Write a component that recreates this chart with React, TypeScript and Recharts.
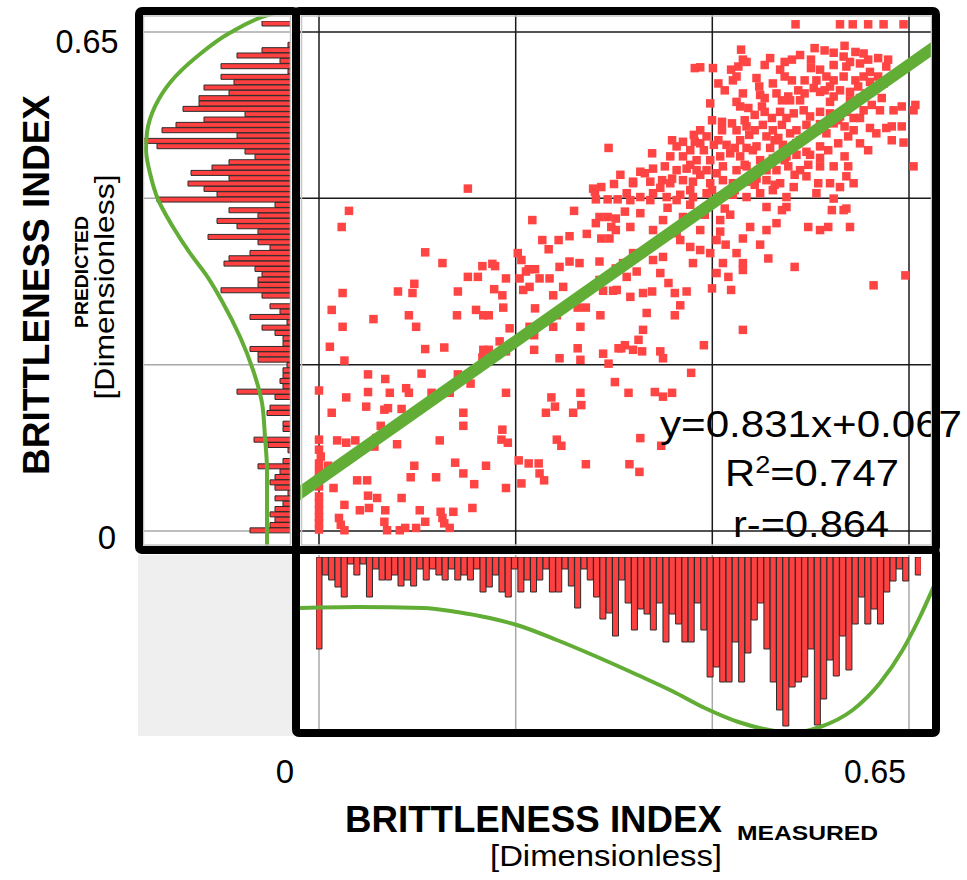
import React from "react";
import {
  ScatterChart,
  Scatter,
  BarChart,
  Bar,
  XAxis,
  YAxis,
  ReferenceLine,
} from "recharts";

type Pair = [number, number];

// [measured, predicted] brittleness index per sample, lower band of the cloud
const lowerSamples: Pair[] = [
  [0.105, 0.322], [0.026, 0.31], [0.087, 0.312], [0.103, 0.31], [0.153, 0.312], [0.164, 0.331], [0.175, 0.331],
  [0.193, 0.315], [0.206, 0.329], [0.202, 0.307], [0.014, 0.288], [0.06, 0.276], [0.099, 0.281], [0.107, 0.266],
  [0.152, 0.281], [0.173, 0.288], [0.181, 0.281], [0.187, 0.281], [0.203, 0.291], [0.026, 0.266], [0.012, 0.24],
  [0.117, 0.237], [0.138, 0.239], [0.181, 0.236], [0.187, 0.236], [0.199, 0.247], [0.206, 0.234], [0.21, 0.264],
  [0.18, 0.226], [0.028, 0.222], [0.054, 0.204], [0.073, 0.198], [0.113, 0.205], [0.153, 0.204], [0.167, 0.192],
  [0.0, 0.183], [0.03, 0.174], [0.054, 0.181], [0.078, 0.18], [0.096, 0.186], [0.099, 0.18], [0.124, 0.18],
  [0.144, 0.18], [0.206, 0.18], [0.014, 0.154], [0.052, 0.162], [0.072, 0.158], [0.076, 0.16], [0.091, 0.159],
  [0.159, 0.154], [0.068, 0.137], [0.159, 0.137], [0.202, 0.132], [0.0, 0.119], [0.02, 0.118], [0.03, 0.115],
  [0.04, 0.118], [0.063, 0.121], [0.061, 0.11], [0.086, 0.113], [0.133, 0.118], [0.201, 0.119], [0.208, 0.115],
  [0.0, 0.106], [0.0, 0.088], [0.01, 0.085], [0.004, 0.075], [0.0, 0.069], [0.016, 0.056], [0.042, 0.066],
  [0.053, 0.066], [0.105, 0.085], [0.101, 0.07], [0.129, 0.07], [0.15, 0.089], [0.159, 0.075], [0.171, 0.061],
  [0.184, 0.085], [0.206, 0.056], [0.0, 0.045], [0.0, 0.027], [0.0, 0.01], [0.028, 0.034], [0.054, 0.046],
  [0.064, 0.043], [0.091, 0.043], [0.045, 0.027], [0.055, 0.03], [0.073, 0.027], [0.111, 0.027], [0.134, 0.025],
  [0.148, 0.025], [0.169, 0.03], [0.022, 0.017], [0.024, 0.008], [0.028, 0.001], [0.072, 0.012], [0.075, 0.001],
  [0.089, 0.001], [0.095, 0.004], [0.107, 0.004], [0.117, 0.012], [0.136, 0.017], [0.138, 0.01], [0.144, 0.004],
  [0.0, 0.002], [0.0, 0.018], [0.0, 0.036], [0.0, 0.058], [0.0, 0.078], [0.002, 0.097],
];

// middle band
const middleSamples: Pair[] = [
  [0.22, 0.092], [0.231, 0.088], [0.242, 0.088], [0.243, 0.075], [0.248, 0.066], [0.223, 0.062], [0.294, 0.087],
  [0.262, 0.119], [0.267, 0.111], [0.256, 0.174], [0.26, 0.162], [0.25, 0.154], [0.288, 0.18], [0.289, 0.164],
  [0.28, 0.154], [0.326, 0.194], [0.232, 0.266], [0.237, 0.255], [0.237, 0.236], [0.258, 0.266], [0.262, 0.281],
  [0.285, 0.291], [0.294, 0.291], [0.288, 0.266], [0.31, 0.281], [0.285, 0.238], [0.288, 0.223], [0.265, 0.225],
  [0.313, 0.231], [0.319, 0.218], [0.33, 0.238], [0.225, 0.314], [0.221, 0.329], [0.232, 0.318], [0.243, 0.329],
  [0.254, 0.329], [0.258, 0.307], [0.238, 0.29], [0.269, 0.318], [0.313, 0.313], [0.324, 0.313], [0.309, 0.327],
  [0.343, 0.305], [0.357, 0.31], [0.367, 0.312], [0.385, 0.323], [0.392, 0.31], [0.405, 0.312], [0.328, 0.314],
  [0.339, 0.331], [0.361, 0.284], [0.392, 0.281], [0.398, 0.294], [0.433, 0.316], [0.454, 0.314], [0.451, 0.331],
  [0.357, 0.262], [0.352, 0.249], [0.337, 0.242], [0.333, 0.238], [0.346, 0.236], [0.356, 0.234], [0.376, 0.234],
  [0.379, 0.225], [0.424, 0.242], [0.467, 0.262], [0.611, 0.32], [0.646, 0.333], [0.341, 0.18], [0.37, 0.181],
  [0.379, 0.175], [0.389, 0.18], [0.41, 0.206], [0.354, 0.121], [0.377, 0.111], [0.342, 0.087], [0.353, 0.077],
  [0.164, 0.446], [0.033, 0.417], [0.025, 0.396], [0.117, 0.363], [0.136, 0.349], [0.18, 0.345], [0.191, 0.348],
  [0.194, 0.345], [0.219, 0.362], [0.223, 0.353], [0.235, 0.405], [0.246, 0.379], [0.253, 0.367], [0.264, 0.379],
  [0.276, 0.384], [0.281, 0.417], [0.295, 0.387], [0.265, 0.344], [0.276, 0.351], [0.287, 0.349], [0.305, 0.401],
  [0.309, 0.409], [0.318, 0.409], [0.327, 0.407], [0.322, 0.396], [0.327, 0.392], [0.32, 0.381], [0.311, 0.381],
  [0.309, 0.351], [0.302, 0.446], [0.311, 0.448], [0.325, 0.452], [0.305, 0.432], [0.318, 0.432], [0.329, 0.432],
  [0.335, 0.349], [0.327, 0.342], [0.319, 0.499], [0.304, 0.442], [0.231, 0.341], [0.238, 0.341], [0.228, 0.338],
];

// upper band, where most samples sit
const upperSamples: Pair[] = [
  [0.465, 0.627], [0.467, 0.614], [0.462, 0.605], [0.471, 0.611], [0.42, 0.604], [0.414, 0.603], [0.434, 0.603],
  [0.454, 0.601], [0.491, 0.607], [0.521, 0.614], [0.542, 0.614], [0.542, 0.603], [0.557, 0.626], [0.567, 0.623],
  [0.579, 0.632], [0.578, 0.618], [0.591, 0.624], [0.6, 0.622], [0.605, 0.614], [0.616, 0.616], [0.627, 0.614],
  [0.625, 0.605], [0.596, 0.609], [0.581, 0.605], [0.567, 0.607], [0.552, 0.601], [0.44, 0.583], [0.447, 0.574],
  [0.456, 0.587], [0.46, 0.592], [0.482, 0.59], [0.485, 0.579], [0.5, 0.583], [0.508, 0.601], [0.513, 0.592],
  [0.521, 0.587], [0.535, 0.587], [0.548, 0.587], [0.559, 0.592], [0.567, 0.587], [0.578, 0.592], [0.591, 0.587],
  [0.6, 0.592], [0.607, 0.598], [0.616, 0.592], [0.622, 0.583], [0.467, 0.57], [0.46, 0.559], [0.464, 0.553],
  [0.473, 0.551], [0.488, 0.553], [0.504, 0.57], [0.51, 0.561], [0.517, 0.566], [0.53, 0.561], [0.535, 0.57],
  [0.545, 0.577], [0.552, 0.572], [0.563, 0.579], [0.567, 0.566], [0.574, 0.574], [0.585, 0.572], [0.594, 0.579],
  [0.603, 0.57], [0.611, 0.577], [0.62, 0.564], [0.431, 0.557], [0.433, 0.535], [0.444, 0.533], [0.455, 0.531],
  [0.46, 0.522], [0.471, 0.527], [0.489, 0.529], [0.499, 0.538], [0.508, 0.546], [0.515, 0.538], [0.523, 0.544],
  [0.534, 0.548], [0.541, 0.54], [0.552, 0.546], [0.563, 0.544], [0.574, 0.54], [0.581, 0.546], [0.589, 0.538],
  [0.6, 0.548], [0.609, 0.555], [0.633, 0.548], [0.642, 0.553], [0.657, 0.555], [0.655, 0.548], [0.42, 0.522],
  [0.427, 0.514], [0.389, 0.509], [0.401, 0.507], [0.394, 0.501], [0.409, 0.496], [0.42, 0.505], [0.44, 0.509],
  [0.449, 0.503], [0.458, 0.499], [0.471, 0.499], [0.482, 0.501], [0.493, 0.514], [0.5, 0.522], [0.51, 0.529],
  [0.519, 0.518], [0.526, 0.522], [0.537, 0.529], [0.548, 0.522], [0.559, 0.518], [0.567, 0.531], [0.579, 0.527],
  [0.589, 0.522], [0.583, 0.514], [0.607, 0.525], [0.614, 0.518], [0.625, 0.525], [0.642, 0.527], [0.631, 0.509],
  [0.644, 0.506], [0.367, 0.492], [0.387, 0.488], [0.401, 0.488], [0.416, 0.483], [0.431, 0.483], [0.442, 0.488],
  [0.453, 0.492], [0.464, 0.488], [0.478, 0.496], [0.486, 0.483], [0.5, 0.485], [0.515, 0.488], [0.526, 0.49],
  [0.537, 0.494], [0.552, 0.501], [0.561, 0.496], [0.579, 0.488], [0.583, 0.475], [0.567, 0.475], [0.552, 0.475],
  [0.539, 0.477], [0.53, 0.47], [0.517, 0.475], [0.504, 0.47], [0.493, 0.47], [0.484, 0.47], [0.471, 0.475],
  [0.46, 0.47], [0.445, 0.475], [0.438, 0.466], [0.427, 0.47], [0.416, 0.47], [0.405, 0.472], [0.394, 0.47],
  [0.381, 0.475], [0.368, 0.472], [0.359, 0.466], [0.346, 0.453], [0.365, 0.455], [0.378, 0.457], [0.389, 0.459],
  [0.401, 0.457], [0.412, 0.455], [0.431, 0.453], [0.445, 0.457], [0.456, 0.453], [0.471, 0.455], [0.482, 0.459],
  [0.493, 0.457], [0.508, 0.453], [0.523, 0.448], [0.537, 0.462], [0.55, 0.453], [0.563, 0.453], [0.574, 0.448],
  [0.581, 0.462], [0.589, 0.453], [0.655, 0.475], [0.339, 0.44], [0.354, 0.435], [0.368, 0.44], [0.383, 0.435],
  [0.398, 0.438], [0.412, 0.435], [0.427, 0.44], [0.442, 0.435], [0.456, 0.438], [0.471, 0.435], [0.486, 0.44],
  [0.5, 0.444], [0.515, 0.435], [0.548, 0.44], [0.567, 0.433], [0.581, 0.42], [0.515, 0.422], [0.493, 0.422],
  [0.497, 0.499], [0.511, 0.503], [0.526, 0.505], [0.506, 0.512], [0.491, 0.564], [0.48, 0.542], [0.474, 0.516],
  [0.552, 0.486], [0.572, 0.505], [0.596, 0.505], [0.596, 0.564], [0.563, 0.559],
  [0.525, 0.66], [0.574, 0.66], [0.588, 0.66], [0.605, 0.66], [0.622, 0.66], [0.644, 0.66], [0.631, 0.527],
  [0.585, 0.396], [0.578, 0.418], [0.565, 0.418], [0.552, 0.392], [0.561, 0.396], [0.539, 0.396], [0.51, 0.418],
  [0.493, 0.392], [0.504, 0.401], [0.475, 0.396], [0.467, 0.381], [0.46, 0.362], [0.467, 0.349], [0.445, 0.349],
  [0.448, 0.373], [0.438, 0.379], [0.442, 0.405], [0.447, 0.42], [0.495, 0.355], [0.524, 0.344], [0.414, 0.507],
  [0.346, 0.455], [0.387, 0.453], [0.343, 0.431], [0.365, 0.431], [0.394, 0.431], [0.354, 0.414], [0.379, 0.405],
  [0.401, 0.409], [0.343, 0.396], [0.368, 0.392], [0.394, 0.388], [0.42, 0.392], [0.409, 0.37], [0.379, 0.357],
  [0.368, 0.353], [0.346, 0.362], [0.412, 0.349], [0.431, 0.362], [0.438, 0.336], [0.467, 0.34], [0.376, 0.336],
  [0.35, 0.338],
];

// tightly packed samples in the core of the upper cloud
const coreSamples: Pair[] = [
  [0.413, 0.516], [0.424, 0.496], [0.435, 0.503], [0.409, 0.477], [0.42, 0.464], [0.433, 0.444], [0.444, 0.522],
  [0.409, 0.444], [0.469, 0.535], [0.48, 0.522], [0.491, 0.546], [0.502, 0.509], [0.513, 0.483], [0.524, 0.464],
  [0.502, 0.451], [0.48, 0.451], [0.469, 0.477], [0.53, 0.509], [0.541, 0.49], [0.519, 0.561], [0.528, 0.574],
  [0.486, 0.568], [0.464, 0.509], [0.458, 0.444], [0.497, 0.616], [0.513, 0.611], [0.53, 0.62], [0.546, 0.629],
  [0.585, 0.611], [0.607, 0.585], [0.557, 0.574], [0.585, 0.561], [0.572, 0.535], [0.596, 0.538], [0.552, 0.53],
  [0.605, 0.496], [0.618, 0.548], [0.332, 0.464], [0.354, 0.468], [0.376, 0.447], [0.337, 0.416], [0.384, 0.421],
  [0.409, 0.425], [0.425, 0.412], [0.42, 0.366], [0.398, 0.379], [0.442, 0.39], [0.453, 0.412], [0.486, 0.373],
];

// measured histogram, 96 bins from low to high
const measuredCounts = [
  92, 18, 23, 30, 40, 7, 18, 7, 40, 12, 23, 23, 18, 29, 23, 29, 12, 23, 12, 18, 23, 12, 23, 18,
  23, 12, 35, 30, 18, 35, 40, 12, 35, 23, 35, 23, 12, 35, 35, 12, 29, 51, 12, 23, 40, 62, 56, 79,
  23, 46, 73, 52, 57, 73, 46, 85, 57, 67, 85, 85, 46, 73, 120, 110, 125, 125, 85, 125, 96, 63, 46, 92,
  125, 153, 169, 130, 125, 120, 92, 168, 142, 103, 119, 79, 113, 67, 40, 67, 52, 67, 35, 24, 12, 24, 0, 18,
];

// predicted histogram, 96 bins listed from the top (highest) bin down
const predictedCounts = [
  29, 0, 0, 0, 3, 29, 54, 11, 70, 3, 70, 57, 87, 62, 92, 92, 108, 46, 87, 115, 129, 54, 149, 134,
  46, 36, 62, 79, 100, 62, 103, 87, 74, 134, 16, 62, 33, 74, 54, 33, 83, 33, 21, 41, 62, 67, 36, 29,
  33, 33, 70, 29, 0, 21, 11, 41, 4, 29, 16, 8, 8, 41, 33, 33, 4, 8, 8, 11, 8, 54, 16, 0, 21, 24,
  0, 8, 8, 0, 37, 23, 3, 0, 8, 33, 11, 16, 21, 16, 3, 16, 8, 16, 21, 16, 21, 41,
];

// density outlines: [measured, count] and [count, predicted] (top to bottom)
const measuredDensity: Pair[] = [
  [-0.023, 51], [0.042, 50], [0.115, 51], [0.152, 55], [0.188, 61], [0.218, 68], [0.262, 83],
  [0.299, 97], [0.351, 118], [0.389, 134], [0.425, 151], [0.462, 165], [0.502, 174],
  [0.519, 176], [0.552, 170], [0.588, 153], [0.618, 126], [0.643, 93], [0.662, 60], [0.679, 26],
];
const predictedDensity: Pair[] = [
  [0, 0.681], [28, 0.67], [61, 0.649], [94, 0.618], [121, 0.584], [136, 0.553], [144, 0.519],
  [145, 0.497], [141, 0.466], [133, 0.432], [118, 0.396], [101, 0.362], [84, 0.332], [68, 0.297],
  [51, 0.253], [38, 0.21], [29, 0.167], [26, 0.122], [24, 0.079], [24, 0.037], [24, -0.025],
];

const gridValues = [0, 0.2167, 0.4333, 0.65];
const tickLabels = ["0", "0.65"];

const slope = 0.831;
const intercept = 0.067;
const rSquared = 0.747;
const rValue = 0.864;

const BIN_START = -0.0035;
const BIN_WIDTH = 0.00695;

const RED = "#ff4444";
const BAR_RED = "#ff4040";
const GREEN = "#62ad36";
const FONT = '"Liberation Sans", Arial, Helvetica, sans-serif';
const NO_MARGIN = { top: 0, right: 0, bottom: 0, left: 0 };
const MARK = 8.5;

// pixel positions of the 0 and 0.65 grid lines
const X0 = 319;
const X1 = 909;
const Y0 = 531;
const Y1 = 32;
const AXIS_MAX = gridValues[gridValues.length - 1];
const xPer = AXIS_MAX / (X1 - X0);
const yPer = AXIS_MAX / (Y0 - Y1);
const xVal = (px: number) => (px - X0) * xPer;
const yVal = (py: number) => (Y0 - py) * yPer;

const xDomain: [number, number] = [xVal(300), xVal(932)];
const yDomain: [number, number] = [yVal(546), yVal(15)];

const binSpan = measuredCounts.length * BIN_WIDTH;
const leftHist = {
  left: 142,
  top: Y0 - (BIN_START + binSpan) / yPer,
  width: 149,
  height: binSpan / yPer,
};
const bottomHist = {
  left: X0 + BIN_START / xPer,
  top: 557,
  width: binSpan / xPer,
  height: 176,
};

const samples = [...lowerSamples, ...middleSamples, ...upperSamples, ...coreSamples].map(([x, y]) => ({ x, y }));
const measuredBins = measuredCounts.map((count, i) => ({
  bin: (BIN_START + BIN_WIDTH * (i + 0.5)).toFixed(4),
  count,
}));
const predictedBins = predictedCounts.map((count, i) => ({
  bin: (BIN_START + BIN_WIDTH * (predictedCounts.length - i - 0.5)).toFixed(4),
  count,
}));
const measuredCurve = measuredDensity.map(([x, y]) => ({ x, y }));
const predictedCurve = predictedDensity.map(([x, y]) => ({ x, y }));
const fitLine = [xDomain[0] - 0.03, xDomain[1] + 0.03].map((x) => ({ x, y: slope * x + intercept }));

const box = (left: number, top: number, width: number, height: number): React.CSSProperties => ({
  position: "absolute",
  left,
  top,
  width,
  height,
});

const square = (props: any) => (
  <rect x={props.cx - MARK / 2} y={props.cy - MARK / 2} width={MARK} height={MARK} fill={RED} />
);
const noMarker = () => <g />;

export default function App() {
  return (
    <div style={{ ...box(0, 0, 967, 880), background: "#fff", overflow: "hidden" }}>
      {/* empty corner */}
      <div style={{ ...box(138, 555, 158, 181), background: "#efefef" }} />

      {/* left panel: grid, predicted histogram, density */}
      <div style={box(143, 15, 148, 531)}>
        <ScatterChart width={148} height={531} margin={NO_MARGIN}>
          <XAxis type="number" dataKey="x" domain={[0, 148]} reversed allowDataOverflow hide />
          <YAxis type="number" dataKey="y" domain={yDomain} allowDataOverflow hide />
          {gridValues.map((v) => (
            <ReferenceLine key={v} y={v} stroke="#a8a8a8" strokeWidth={1.5} />
          ))}
        </ScatterChart>
      </div>
      <div style={box(leftHist.left, leftHist.top, leftHist.width, leftHist.height)}>
        <BarChart
          layout="vertical"
          width={leftHist.width}
          height={leftHist.height}
          data={predictedBins}
          margin={NO_MARGIN}
          barCategoryGap={0}
        >
          <XAxis type="number" domain={[0, 149]} reversed hide />
          <YAxis type="category" dataKey="bin" hide />
          <Bar dataKey="count" fill={BAR_RED} stroke="#2b2b2b" strokeWidth={1} isAnimationActive={false} />
        </BarChart>
      </div>
      <div style={box(143, 15, 148, 531)}>
        <ScatterChart width={148} height={531} margin={NO_MARGIN}>
          <XAxis type="number" dataKey="x" domain={[0, 148]} reversed allowDataOverflow hide />
          <YAxis type="number" dataKey="y" domain={yDomain} allowDataOverflow hide />
          <Scatter
            data={predictedCurve}
            shape={noMarker}
            line={{ stroke: GREEN, strokeWidth: 4 }}
            lineJointType="monotoneY"
            isAnimationActive={false}
          />
        </ScatterChart>
      </div>

      {/* bottom panel: grid, measured histogram, density */}
      <div style={box(300, 555, 632, 178)}>
        <ScatterChart width={632} height={178} margin={NO_MARGIN}>
          <XAxis type="number" dataKey="x" domain={xDomain} allowDataOverflow hide />
          <YAxis type="number" dataKey="y" domain={[-2, 176]} reversed allowDataOverflow hide />
          {gridValues.map((v) => (
            <ReferenceLine key={v} x={v} stroke="#a8a8a8" strokeWidth={1.5} />
          ))}
        </ScatterChart>
      </div>
      <div style={box(bottomHist.left, bottomHist.top, bottomHist.width, bottomHist.height)}>
        <BarChart
          width={bottomHist.width}
          height={bottomHist.height}
          data={measuredBins}
          margin={NO_MARGIN}
          barCategoryGap={0}
        >
          <XAxis dataKey="bin" hide />
          <YAxis type="number" domain={[0, 176]} reversed hide />
          <Bar dataKey="count" fill={BAR_RED} stroke="#2b2b2b" strokeWidth={1} isAnimationActive={false} />
        </BarChart>
      </div>
      <div style={box(300, 555, 632, 178)}>
        <ScatterChart width={632} height={178} margin={NO_MARGIN}>
          <XAxis type="number" dataKey="x" domain={xDomain} allowDataOverflow hide />
          <YAxis type="number" dataKey="y" domain={[-2, 176]} reversed allowDataOverflow hide />
          <Scatter
            data={measuredCurve}
            shape={noMarker}
            line={{ stroke: GREEN, strokeWidth: 4 }}
            lineJointType="monotoneX"
            isAnimationActive={false}
          />
        </ScatterChart>
      </div>

      {/* main scatter with fitted line */}
      <div style={box(300, 15, 632, 531)}>
        <ScatterChart width={632} height={531} margin={NO_MARGIN}>
          <XAxis type="number" dataKey="x" domain={xDomain} allowDataOverflow hide />
          <YAxis type="number" dataKey="y" domain={yDomain} allowDataOverflow hide />
          {gridValues.map((v) => (
            <ReferenceLine key={"x" + v} x={v} stroke="#1a1a1a" strokeWidth={1.5} />
          ))}
          {gridValues.map((v) => (
            <ReferenceLine key={"y" + v} y={v} stroke="#1a1a1a" strokeWidth={1.5} />
          ))}
          <Scatter data={samples} shape={square} isAnimationActive={false} />
          <Scatter
            data={fitLine}
            shape={noMarker}
            line={{ stroke: GREEN, strokeWidth: 12 }}
            isAnimationActive={false}
          />
        </ScatterChart>
      </div>

      {/* text */}
      <svg width={967} height={880} style={box(0, 0, 967, 880)} fontFamily={FONT} fill="#000">
        <text x={660} y={437} fontSize={36} textLength={302} lengthAdjust="spacingAndGlyphs">
          {`y=${slope.toFixed(3)}x+${intercept.toFixed(3)}`}
        </text>
        <text x={725} y={486} fontSize={37} textLength={174} lengthAdjust="spacingAndGlyphs">
          R<tspan dy={-13} fontSize={24}>2</tspan>
          <tspan dy={13} fontSize={37}>{`=${rSquared.toFixed(3)}`}</tspan>
        </text>
        <text x={733} y={537} fontSize={37} textLength={156} lengthAdjust="spacingAndGlyphs">
          {`r-=${rValue.toFixed(3)}`}
        </text>

        <text x={87} y={53} fontSize={33} textAnchor="middle" textLength={63} lengthAdjust="spacingAndGlyphs">
          {tickLabels[1]}
        </text>
        <text x={107} y={549} fontSize={33} textAnchor="middle">
          {tickLabels[0]}
        </text>
        <text x={285} y={783} fontSize={33} textAnchor="middle">
          {tickLabels[0]}
        </text>
        <text x={875} y={783} fontSize={33} textAnchor="middle" textLength={62} lengthAdjust="spacingAndGlyphs">
          {tickLabels[1]}
        </text>

        <text x={345} y={832} fontSize={36} fontWeight="bold" textLength={377} lengthAdjust="spacingAndGlyphs">
          BRITTLENESS INDEX
        </text>
        <text x={737} y={840} fontSize={20} fontWeight="bold" textLength={141} lengthAdjust="spacingAndGlyphs">
          MEASURED
        </text>
        <text x={606} y={866} fontSize={30} textAnchor="middle" textLength={232} lengthAdjust="spacingAndGlyphs">
          [Dimensionless]
        </text>

        <text
          transform="rotate(-90 49 285)"
          x={49}
          y={285}
          fontSize={36}
          fontWeight="bold"
          textAnchor="middle"
          textLength={380}
          lengthAdjust="spacingAndGlyphs"
        >
          BRITTLENESS INDEX
        </text>
        <text
          transform="rotate(-90 88 272)"
          x={88}
          y={272}
          fontSize={18}
          fontWeight="bold"
          textAnchor="middle"
          textLength={112}
          lengthAdjust="spacingAndGlyphs"
        >
          PREDICTED
        </text>
        <text
          transform="rotate(-90 114 287)"
          x={114}
          y={287}
          fontSize={28}
          textAnchor="middle"
          textLength={225}
          lengthAdjust="spacingAndGlyphs"
        >
          [Dimensionless]
        </text>
      </svg>

      {/* panel frames */}
      <svg width={967} height={880} style={{ ...box(0, 0, 967, 880), pointerEvents: "none" }}>
        <g fill="none" stroke="#c4c4c4" strokeWidth={1.5}>
          <rect x={143.5} y={16} width={147} height={529} />
          <rect x={301.5} y={16} width={630} height={529} />
        </g>
        <g fill="none" stroke="#000" strokeWidth={8} strokeLinejoin="round">
          <rect x={139} y={11} width={157} height={539} rx={3} />
          <rect x={296} y={11} width={640} height={539} rx={3} />
          <rect x={296} y={550} width={640} height={183} rx={3} />
        </g>
      </svg>
    </div>
  );
}
